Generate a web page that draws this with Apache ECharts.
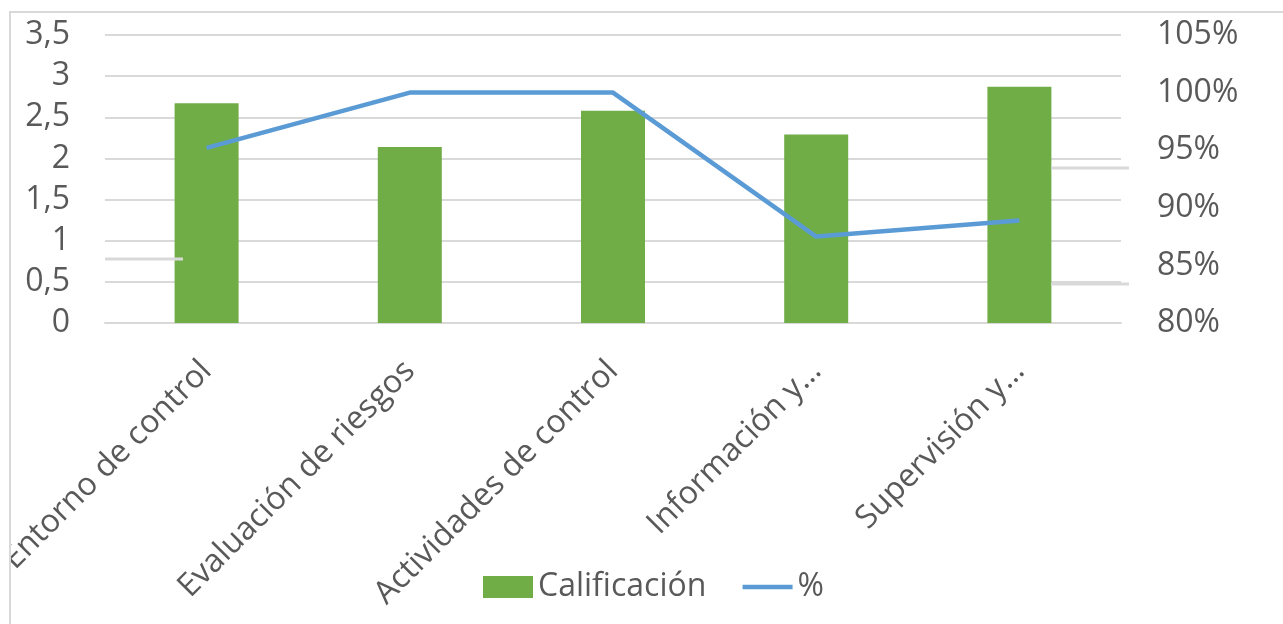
<!DOCTYPE html>
<html>
<head>
<meta charset="utf-8">
<script src="https://cdn.jsdelivr.net/npm/echarts@6/dist/echarts.min.js"></script>
<style>
html,body{margin:0;padding:0;background:#fff;}
#chart{width:1283px;height:624px;}
</style>
</head>
<body>
<div id="chart"></div>
<script>
const categories = ['Entorno de control', 'Evaluación de riesgos', 'Actividades de control', 'Información y…', 'Supervisión y…'];
const calificacion = [2.67, 2.14, 2.58, 2.29, 2.87];
const porcentaje = [95.2, 100, 100, 87.5, 88.9];
const leftTicks = { min: 0, max: 3.5, interval: 0.5 };
const rightTicks = { min: 80, max: 105, interval: 5 };

const FONT = 'Open Sans';
const FS = 32;
const TXT = '#595959';
const chart = echarts.init(document.getElementById('chart'), null, { renderer: 'canvas' });
chart.setOption({
  animation: false,
  backgroundColor: '#ffffff',
  textStyle: { fontFamily: FONT },
  grid: { left: 105, right: 162, top: 35, bottom: 301, containLabel: false, outerBoundsMode: 'none' },
  legend: {
    top: 571, left: 483, padding: 0,
    itemWidth: 50, itemHeight: 22, itemGap: 34,
    textStyle: { fontFamily: FONT, fontSize: FS, color: TXT },
    data: [
      { name: 'Calificación', icon: 'rect' },
      { name: '%', itemStyle: { opacity: 0 }, lineStyle: { width: 4.5, color: '#5B9BD5' } }
    ]
  },
  xAxis: {
    type: 'category',
    data: categories,
    axisLine: { show: true, lineStyle: { color: '#D9D9D9', width: 2 } },
    axisTick: { show: false },
    axisLabel: { rotate: 45, fontSize: FS, color: TXT, fontFamily: FONT, margin: 43, interval: 0 }
  },
  yAxis: [
    {
      type: 'value', min: leftTicks.min, max: leftTicks.max, interval: leftTicks.interval,
      axisLine: { show: false }, axisTick: { show: false },
      splitLine: { lineStyle: { color: '#D9D9D9', width: 2 } },
      axisLabel: { fontSize: FS, color: TXT, fontFamily: FONT, margin: 35,
        formatter: v => String(v).replace('.', ',') }
    },
    {
      type: 'value', min: rightTicks.min, max: rightTicks.max, interval: rightTicks.interval,
      axisLine: { show: false }, axisTick: { show: false }, splitLine: { show: false },
      axisLabel: { fontSize: FS, color: TXT, fontFamily: FONT, margin: 36,
        formatter: v => v + '%' }
    }
  ],
  series: [
    {
      name: 'Calificación', type: 'bar', data: calificacion, yAxisIndex: 0,
      barWidth: 64, itemStyle: { color: '#70AD47' }
    },
    {
      name: '%', type: 'line', data: porcentaje, yAxisIndex: 1,
      symbol: 'none', lineStyle: { color: '#5B9BD5', width: 4.5 }, itemStyle: { color: '#5B9BD5' }
    }
  ],
  graphic: [
    { type: 'line', z: 100, shape: { x1: 105, y1: 259, x2: 183, y2: 259 }, style: { stroke: '#D9D9D9', lineWidth: 3 } },
    { type: 'line', z: 100, shape: { x1: 1051, y1: 168, x2: 1129, y2: 168 }, style: { stroke: '#D9D9D9', lineWidth: 3 } },
    { type: 'line', z: 100, shape: { x1: 1051, y1: 284, x2: 1129, y2: 284 }, style: { stroke: '#D9D9D9', lineWidth: 3 } },
    { type: 'rect', z: 100, shape: { x: 0, y: 0, width: 10, height: 624 }, style: { fill: '#ffffff' } },
    { type: 'rect', z: 101, shape: { x: 10, y: 12, width: 1290, height: 640 }, style: { fill: null, stroke: '#D9D9D9', lineWidth: 2 } }
  ]
});
</script>
</body>
</html>
